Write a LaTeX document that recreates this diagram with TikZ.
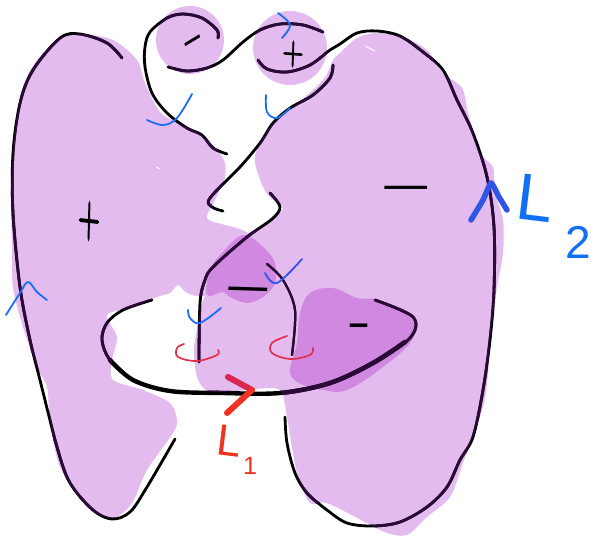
\documentclass[tikz,border=0pt]{standalone}
\usepackage{fontspec}
\setmainfont{Liberation Sans}
\newfontfamily\plusfont[FakeBold=3]{Latin Modern Roman}
\definecolor{lilac}{HTML}{E3BBEF}
\definecolor{deep}{HTML}{D088E0}
\definecolor{inkp}{HTML}{2B0A3A}
\definecolor{blueA}{HTML}{1A6EF5}
\definecolor{blueB}{HTML}{2F55E8}
\definecolor{labelblue}{HTML}{0F6FF5}
\definecolor{redA}{HTML}{EE3322}
\definecolor{redB}{HTML}{DA2650}
\definecolor{redC}{HTML}{E0304A}
\tikzset{
  strand/.style={line width=2.8pt,line cap=round,line join=round},
  heavy/.style={line width=4.4pt,line cap=round,line join=round},
  bluearc/.style={blueA,line width=1.8pt,line cap=round,line join=round},
  redarc/.style={redC,line width=1.7pt,line cap=round,line join=round},
  sign/.style={inner sep=0pt,outer sep=0pt,transform shape,text=black}
}
\newcommand{\regionleft}{plot[smooth cycle,tension=.5] coordinates {(35,63)(57,40)(80,34)(113,40)(137,60)(145,83)(160,112)(178,123)(202,135)(223,158)(225,177)(216,198)(207,218)(225,225)(242,230)(262,245)(240,280)(205,296)(187,293)(178,285)(170,293)(157,297)(133,307)(107,315)(117,337)(112,360)(113,380)(143,390)(170,403)(177,420)(173,433)(147,470)(132,503)(113,518)(87,507)(60,467)(50,420)(47,387)(37,367)(23,327)(13,287)(12,247)(11,190)(15,130)(22,90)}}
\newcommand{\regionright}{plot[smooth cycle,tension=.5] coordinates {(340,53)(357,38)(377,33)(403,37)(427,50)(443,73)(462,88)(468,113)(480,153)(493,167)(495,193)(503,220)(503,253)(497,287)(490,340)(488,373)(483,407)(463,463)(450,497)(427,517)(407,535)(387,533)(367,523)(327,503)(310,503)(297,473)(288,423)(282,393)(270,388)(235,391)(208,391)(197,377)(194,350)(198,325)(205,296)(240,240)(265,226)(283,208)(270,197)(263,187)(255,163)(258,147)(273,123)(290,110)(323,80)(333,60)}}
\newcommand{\regioncircA}{(190,40) circle[radius=34]}
\newcommand{\regioncircB}{(290,48) circle[radius=37]}
\newcommand{\allstrands}[1]{%
  \draw[strand,#1] plot[smooth,tension=.55] coordinates {(218,38)(217,30)(202,18)(183,14)(167,18)(150,32)(145,47)(145,67)(152,93)(167,113)(187,128)(202,135)(213,148)(227,154)};
  \draw[strand,#1] plot[smooth,tension=.55] coordinates {(168,67)(187,71)(207,68)(223,60)(243,42)(260,30)(280,24)(303,25)(323,32)};
  \draw[strand,#1] plot[smooth,tension=.55] coordinates {(258,60)(267,69)(287,72)(310,65)(330,50)(340,44)(357,33)(377,31)(400,36)(423,52)(443,70)(457,100)(473,133)(487,177)(494,227)(494,290)(490,340)(483,390)(473,437)(460,460)(447,487)(427,507)(400,522)(373,526)(347,523)(327,510)(307,493)(295,473)(287,443)(285,417)};
  \draw[strand,#1] plot[smooth,tension=.55] coordinates {(333,65)(330,78)(313,95)(290,108)(273,123)(260,143)(240,167)(210,198)(212,207)(223,211)};
  \draw[strand,#1] plot[smooth,tension=.55] coordinates {(270,193)(280,207)(272,219)(247,237)(213,267)(205,280)(200,303)(199,362)};
  \draw[strand,line width=2.2pt,#1] plot[smooth,tension=.55] coordinates {(267,264)(283,280)(295,310)(292,355)};
  \draw[strand,#1] plot[smooth,tension=.55] coordinates {(152,300)(123,310)(107,323)(102,340)(110,360)(133,380)(170,391)(223,393)(280,393)(330,383)(373,363)(410,338)(413,317)(375,300)};
  \draw[heavy,#1] plot[smooth,tension=.55] coordinates {(110,360)(133,380)(170,391)(223,393)(280,393)(330,383)(373,363)(405,342)};
  \draw[strand,#1] plot[smooth,tension=.55] coordinates {(122,58)(107,43)(80,34)(60,38)(33,70)(20,103)(13,153)(13,213)(20,287)(30,340)(40,380)(57,447)(70,483)(93,510)(112,519)(130,512)(147,487)(175,439)};
}
\begin{document}
\begin{tikzpicture}[x=1pt,y=-1pt]
\useasboundingbox (0,0) rectangle (593,535);
% shaded regions
\fill[lilac] \regionleft;
\fill[lilac] \regionright;
\fill[lilac] \regioncircA;
\fill[lilac] \regioncircB;
\fill[deep] plot[smooth cycle,tension=.6] coordinates {(243,235)(263,247)(275,263)(275,283)(263,297)(247,303)(230,297)(223,292)(207,295)(210,270)(222,253)};
\fill[deep] plot[smooth cycle,tension=.6] coordinates {(310,293)(333,288)(357,298)(377,300)(410,317)(412,340)(383,367)(347,390)(323,390)(303,385)(290,373)(297,343)(300,313)};
% small gaps in the shading
\draw[white,line width=1pt] (156,167) -- (160,169);
\draw[white,line width=1pt] (365,46) -- (375,51);
% knot strands: black on paper, dark purple where shaded
\allstrands{black}
\begin{scope}
  \clip \regionleft \regionright \regioncircA \regioncircB;
  \allstrands{inkp}
\end{scope}
% signs
\node[sign,font=\plusfont\fontsize{60}{60}\selectfont,xscale=.5,rotate=-3] (plusA) at (89,221) {+};
\node[sign,font=\plusfont\fontsize{40}{40}\selectfont,xscale=.72,rotate=-3] (plusB) at (293,54) {+};
\node[sign,font=\fontsize{34}{34}\selectfont,yscale=1.3,rotate=25] (minusA) at (195,47) {−};
\node[sign,font=\fontsize{80}{80}\selectfont,yscale=.6,rotate=-3] (minusB) at (248,296) {−};
\node[sign,font=\fontsize{36}{36}\selectfont,yscale=1.4] (minusC) at (359,333) {−};
\node[sign,font=\fontsize{88}{88}\selectfont,yscale=.5] (minusD) at (406,194) {−};
% blue arcs
\draw[bluearc] plot[smooth,tension=.6] coordinates {(6,315)(20,293)(28,282)(37,292)(47,300)};
\draw[bluearc] plot[smooth,tension=.6] coordinates {(147,120)(163,125)(177,118)(192,94)};
\draw[bluearc] plot[smooth,tension=.6] coordinates {(278,13)(290,25)(282,38)};
\draw[bluearc] plot[smooth,tension=.6] coordinates {(266,95)(267,112)(277,118)(290,108)};
\draw[bluearc] plot[smooth,tension=.6] coordinates {(188,310)(190,318)(200,323)(221,308)};
\draw[bluearc,blueB] plot[smooth,tension=.6] coordinates {(265,273)(277,283)(302,259)};
% red arcs
\draw[redarc] plot[smooth,tension=.6] coordinates {(184,344)(177,348)(178,357)(197,361)(217,355)(218,350)};
\draw[redarc] plot[smooth,tension=.6] coordinates {(287,336)(272,343)(272,353)(290,359)(310,355)(313,348)};
% orientation arrows
\draw[redB,line width=6pt,line cap=round] (228,377) -- (252,390);
\draw[redA,line width=6pt,line cap=round] (252,390) -- (227,413);
\draw[blueB,line width=5.5pt,line cap=round,line join=round] plot[smooth,tension=.3] coordinates {(471,220)(483,200)(491,183)(499,197)(507,210)};
% labels
\node[inner sep=0pt,outer sep=0pt,text=labelblue,font=\fontsize{66}{66}\selectfont,rotate=-7] (labelL) at (535,198) {L};
\node[inner sep=0pt,outer sep=0pt,text=labelblue,font=\fontsize{46}{46}\selectfont] (labelLsub) at (578,242) {2};
\node[inner sep=0pt,outer sep=0pt,text=redA,font=\fontsize{44}{44}\selectfont,rotate=-7] (labelK) at (229,441) {L};
\node[inner sep=0pt,outer sep=0pt,text=redA,font=\fontsize{25}{25}\selectfont] (labelKsub) at (250,466) {1};
\end{tikzpicture}
\end{document}
